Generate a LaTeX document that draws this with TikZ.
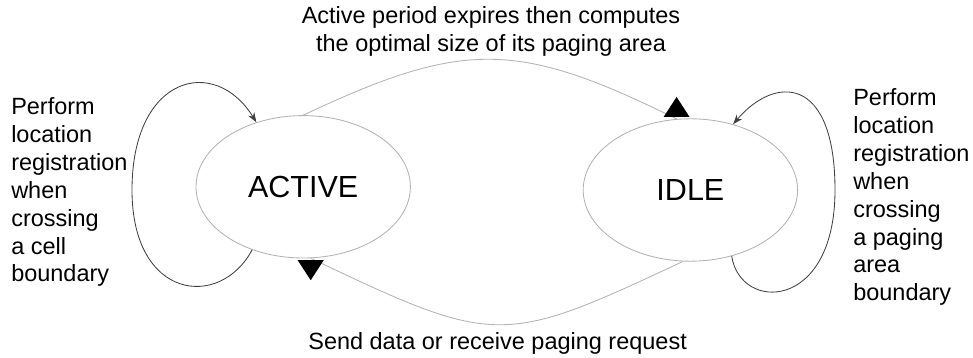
\documentclass[tikz,border=0pt]{standalone}
\usepackage{fontspec}
\setmainfont{Liberation Sans}
\usetikzlibrary{positioning,arrows.meta,calc,shapes.geometric}

\begin{document}
\begin{tikzpicture}[
    every node/.style={font=\fontsize{16.7}{19.9}\selectfont},
    state/.style={ellipse, draw=black!30, line width=0.6pt, minimum width=5.36cm, minimum height=3.56cm, inner sep=0pt, font=\fontsize{21.7}{26}\selectfont},
    note/.style={align=left, inner sep=0pt},
    flow/.style={draw=black!30, line width=0.6pt},
    selfloop/.style={draw=black!75, line width=0.6pt, -{Stealth[length=7pt,width=5pt]}},
    headfill/.style={fill=black}
  ]
    \useasboundingbox (0,0) rectangle (24.325,8.95);
    \node[state] (active) at (7.58,4.28) {ACTIVE};
    \node[state] (idle) at (17.26,4.2) {IDLE};

    \node[align=center] (top_label) at (12.275,8.16) {Active period expires then computes\\the optimal size of its paging area};
    \node[align=center] (bottom_label) at (12.44,0.375) {Send data or receive paging request};
    \node[note, anchor=west] (active_note) at (0.275,4.15) {Perform\\location\\registration\\when\\crossing\\a cell\\boundary};
    \node[note, anchor=west] (idle_note) at (21.325,4.025) {Perform\\location\\registration\\when\\crossing\\a paging\\area\\boundary};

    \draw[flow] (active.north) .. controls (11.575,7.95) and (12.925,7.95) .. (idle.101);
    \fill[headfill] ($(idle.101)+(-0.325,0.05)$) -- ++(0.65,0) -- ++(-0.325,0.5) -- cycle;
    \draw[flow] (idle.264) .. controls (12.55,0.29) and (12.4,0.29) .. (active.276);
    \fill[headfill] ($(active.276)+(-0.325,-0.05)$) -- ++(0.65,0) -- ++(-0.325,-0.5) -- cycle;

    \draw[selfloop] (active.231) .. controls (5.5,1.2) and (3.3,1.45) .. (3.3,4.2)
      .. controls (3.3,7.075) and (5.375,7.575) .. (active.126);
    \draw[selfloop] (idle.302) .. controls (18.5,1.15) and (20.875,1.15) .. (20.875,4.2)
      .. controls (20.875,7.075) and (19.375,7.075) .. (idle.57);
  \end{tikzpicture}
\end{document}
